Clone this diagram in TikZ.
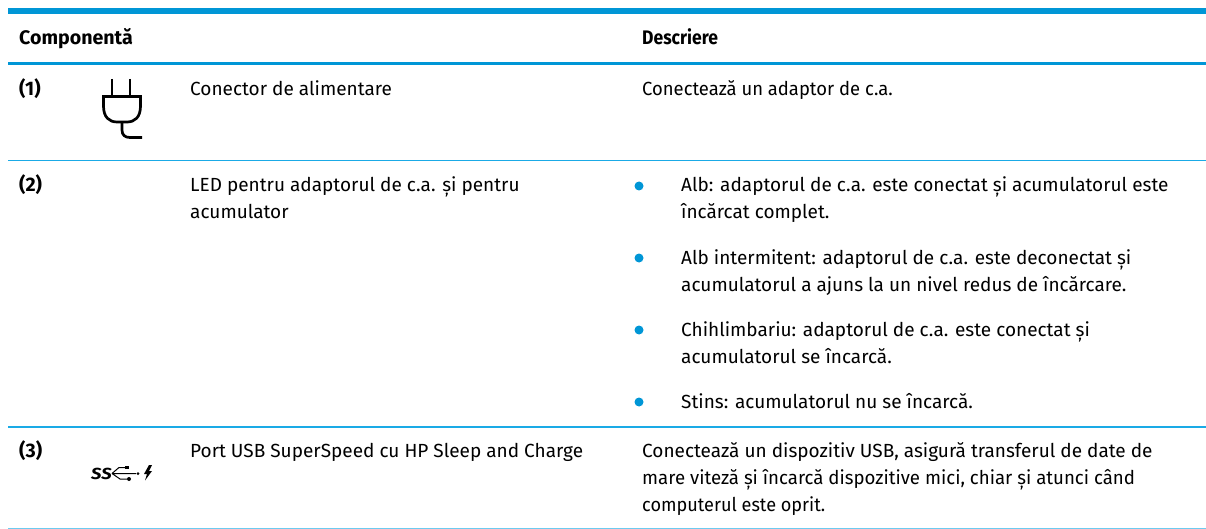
\documentclass[tikz,border=0pt]{standalone}
\usepackage{fontspec}
\setmainfont{Fira Sans}
\definecolor{hpblue}{HTML}{0096D6}
\definecolor{hpline}{HTML}{1AAAE6}
\definecolor{hplow}{HTML}{6CCBF0}
\tikzset{
 txt/.style={anchor=base west,inner sep=0pt,font=\fontsize{19pt}{22pt}\selectfont,text=black},
 hd/.style={anchor=base west,inner sep=0pt,font=\fontsize{19.6pt}{22pt}\selectfont\bfseries},
 fit width/.style={transform shape,xscale=#1},
 bul/.style={circle,fill=hpblue,inner sep=0pt,minimum size=9pt},
 icon/.style={line width=2.7pt,black},
 prong/.style={line width=1.6pt,black}
}
\begin{document}
\begin{tikzpicture}[x=1pt,y=-1pt]
\useasboundingbox (0,0) rectangle (1206,529);
\fill[hpblue] (8,8) rectangle (1206,14);
\fill[hpblue] (8,62) rectangle (1206,65);
\fill[hpline] (8,160) rectangle (1206,161.5);
\fill[hpline] (8,426) rectangle (1206,427.5);
\fill[hplow] (8,527.5) rectangle (1206,529);
\node[hd] (h1) at (19,44.5) {Componentă};
\node[hd,fit width=0.894] (h2) at (642,44.5) {Descriere};
\node[hd] (n1) at (19,96) {(1)};
\node[hd] (n2) at (19,192) {(2)};
\node[hd] (n3) at (19,457) {(3)};
\node[txt] (c1) at (190,96) {Conector de alimentare};
\node[txt] (c2a) at (190,192) {LED pentru adaptorul de c.a. și pentru};
\node[txt] (c2b) at (190,219) {acumulator};
\node[txt] (c3) at (190,457) {Port USB SuperSpeed cu HP Sleep and Charge};
\node[txt,fit width=0.97] (d1) at (642,96) {Conectează un adaptor de c.a.};
\node[txt] (d2a) at (681,192) {Alb: adaptorul de c.a. este conectat și acumulatorul este};
\node[txt] (d2b) at (681,219) {încărcat complet.};
\node[txt] (d3a) at (681,264) {Alb intermitent: adaptorul de c.a. este deconectat și};
\node[txt] (d3b) at (681,291) {acumulatorul a ajuns la un nivel redus de încărcare.};
\node[txt] (d4a) at (681,336) {Chihlimbariu: adaptorul de c.a. este conectat și};
\node[txt] (d4b) at (681,363) {acumulatorul se încarcă.};
\node[txt] (d5) at (681,408) {Stins: acumulatorul nu se încarcă.};
\node[txt] (d6a) at (642,457) {Conectează un dispozitiv USB, asigură transferul de date de};
\node[txt,fit width=0.982] (d6b) at (642,484) {mare viteză și încarcă dispozitive mici, chiar și atunci când};
\node[txt,fit width=0.953] (d6c) at (642,511) {computerul este oprit.};
\node[bul] (b1) at (639,186) {};
\node[bul] (b2) at (639,258) {};
\node[bul] (b3) at (639,330) {};
\node[bul] (b4) at (639,402) {};
% plug
\draw[prong] (112,79) -- (112,96) (130,79) -- (130,96);
\draw[icon] (103.5,96.5) -- (140.5,96.5) -- (140.5,106) .. controls (140.5,117) and (135,122) .. (127,122) -- (117,122) .. controls (109,122) and (103.5,117) .. (103.5,106) -- cycle;
\draw[icon] (122,122) -- (122,130) .. controls (122,135) and (125,137.5) .. (130,137.5) -- (142,137.5);
% usb
\node[anchor=base west,inner sep=0pt,font=\fontsize{16pt}{16pt}\selectfont\itshape\bfseries,text=black,fit width=1.15] (ss) at (91,479.5) {SS};
\draw[line width=1pt,black] (112,473.5) -- (119,467.5) -- (126,467.5) (112,473.5) -- (120,479) -- (127,479) (112,473.5) -- (136,473.5);
\fill[black] (125,465.8) rectangle (129,469.2);
\fill[black] (129,479) circle (2);
\fill[black] (138,473.5) circle (1.5);
\fill[black] (149,465) -- (144,474) -- (147,474) -- (145,480.5) -- (152,471) -- (149,471) -- (152,465) -- cycle;
\end{tikzpicture}
\end{document}
